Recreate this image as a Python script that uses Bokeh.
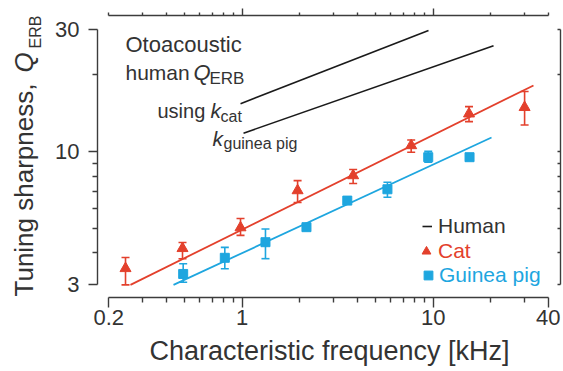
import math
from bokeh.plotting import figure
from bokeh.models import (ColumnDataSource, Whisker, TeeHead, Label, LogAxis, FixedTicker,
                          BasicTickFormatter, Legend, LegendItem)
from bokeh.embed import file_html
from bokeh.resources import INLINE

# ---- data ----
cat_f = [0.245, 0.487, 0.98, 1.95, 3.81, 7.67, 15.4, 30.1]
cat_q = [3.48, 4.17, 5.03, 7.03, 8.05, 10.56, 14.06, 14.9]
cat_hi = [3.84, 4.40, 5.46, 7.69, 8.50, 11.1, 15.0, 17.2]
cat_lo = [3.0, 3.80, 4.69, 6.31, 7.49, 9.94, 13.1, 12.7]

gp_f = [0.491, 0.811, 1.324, 2.17, 3.55, 5.76, 9.42, 15.5]
gp_q = [3.31, 3.83, 4.41, 5.05, 6.42, 7.11, 9.50, 9.50]
gp_hi = [3.63, 4.21, 4.97, 5.12, 6.52, 7.58, 10.03, 9.62]
gp_lo = [3.07, 3.47, 3.80, 4.98, 6.32, 6.62, 9.08, 9.38]

cat_fit_f = [0.26, 33.5]
cat_fit_q = [3.0, 18.15]
gp_fit_f = [0.437, 20.2]
gp_fit_q = [3.0, 11.35]

human_cat_f = [0.98, 9.45]
human_cat_q = [15.4, 29.8]
human_gp_f = [1.016, 20.7]
human_gp_q = [11.8, 26.0]

x_ticks = [0.2, 1, 10, 40]
x_tick_labels = ["0.2", "1", "10", "40"]
x_minor = [0.3, 0.4, 0.5, 0.6, 0.7, 0.8, 0.9, 2, 3, 4, 5, 6, 7, 8, 9, 20, 30]
y_ticks = [3, 10, 30]
y_tick_labels = ["3", "10", "30"]
y_minor = [4, 5, 6, 7, 8, 9, 20]

# ---- style ----
RED = "#E3402C"
BLUE = "#1EA6DF"
TXT = "#333333"
AX = "#3c3c3c"
FONT = "Liberation Sans"

# The frame covers the picture from its left and bottom edges, so the axis
# titles lie inside the frame; the left and bottom axes sit at fixed positions.
X0, X1 = 0.05428, 46.4
Y0, Y1 = 1.372, 34.15
FL, FR, FT, FB = 0.0, 560.0, 15.0, 371.0
YAXIS_PX = 97.0
XAXIS_PY = 297.0
BASE_K = 0.38   # empirical baseline correction of Label text (fraction of font size)


def px2x(px):
    lx0, lx1 = math.log10(X0), math.log10(X1)
    return 10 ** (lx0 + (px - FL) / (FR - FL) * (lx1 - lx0))


def px2y(py):
    ly0, ly1 = math.log10(Y0), math.log10(Y1)
    return 10 ** (ly0 + (FB - py) / (FB - FT) * (ly1 - ly0))


p = figure(width=563, height=371, x_axis_type="log", y_axis_type="log",
           x_range=(X0, X1), y_range=(Y0, Y1),
           output_backend="svg", toolbar_location=None,
           min_border_left=0, min_border_right=3, min_border_top=15, min_border_bottom=0)
p.outline_line_color = None
p.grid.visible = False
p.background_fill_color = "white"

# bottom axis
xa = p.xaxis[0]
xa.fixed_location = px2y(XAXIS_PY)
xa.ticker = FixedTicker(ticks=x_ticks, minor_ticks=x_minor)
xa.formatter = BasicTickFormatter(use_scientific=False)
xa.major_label_overrides = dict(zip(x_ticks, x_tick_labels))
xa.bounds = (0.2, 40)
xa.major_label_text_font = FONT
xa.major_label_text_font_size = "22px"
xa.major_label_text_color = TXT
xa.major_label_standoff = 2
xa.major_tick_out = 10
xa.major_tick_in = 0
xa.minor_tick_out = 5
xa.minor_tick_in = 0

# left axis
ya = p.yaxis[0]
ya.fixed_location = px2x(YAXIS_PX)
ya.ticker = FixedTicker(ticks=y_ticks, minor_ticks=y_minor)
ya.formatter = BasicTickFormatter(use_scientific=False)
ya.major_label_overrides = dict(zip(y_ticks, y_tick_labels))
ya.bounds = (3, 30)
ya.major_label_text_font = FONT
ya.major_label_text_font_size = "22px"
ya.major_label_text_color = TXT
ya.major_label_standoff = 9
ya.major_tick_out = 9
ya.major_tick_in = 0
ya.minor_tick_out = 5
ya.minor_tick_in = 0

for a in (xa, ya):
    a.axis_line_color = AX
    a.axis_line_width = 1.4
    a.major_tick_line_color = AX
    a.major_tick_line_width = 1.4
    a.minor_tick_line_color = AX
    a.minor_tick_line_width = 1.4

# top axis (ticks only, 1 and 10 long)
top = LogAxis(ticker=FixedTicker(ticks=[1, 10], minor_ticks=[0.2] + x_minor + [40]),
              bounds=(0.2, 40),
              major_label_text_font_size="1px", major_label_text_alpha=0,
              major_label_standoff=0,
              major_tick_out=7, major_tick_in=0, minor_tick_out=3, minor_tick_in=0,
              axis_line_color=AX, axis_line_width=1.4, major_tick_line_color=AX,
              major_tick_line_width=1.4, minor_tick_line_color=AX, minor_tick_line_width=1.4)
p.add_layout(top, "above")

# right axis (edge of neighbouring panel)
right = LogAxis(ticker=FixedTicker(ticks=[3, 4, 5, 6, 7, 8, 9, 10, 20, 30], minor_ticks=[]),
                bounds=(3, 30), major_label_text_font_size="1px", major_label_text_alpha=0,
                major_label_standoff=0,
                major_tick_out=0, major_tick_in=3, minor_tick_out=0, minor_tick_in=0,
                axis_line_color=AX, axis_line_width=1.4, major_tick_line_color=AX,
                major_tick_line_width=1.4)
p.add_layout(right, "right")

# ---- lines ----
hl1 = p.line(human_cat_f, human_cat_q, line_color="#1a1a1a", line_width=1.6)
p.line(human_gp_f, human_gp_q, line_color="#1a1a1a", line_width=1.6)
p.line(cat_fit_f, cat_fit_q, line_color=RED, line_width=1.8)
p.line(gp_fit_f, gp_fit_q, line_color=BLUE, line_width=1.8)

# ---- error bars ----
cat_src = ColumnDataSource(dict(f=cat_f, q=cat_q, hi=cat_hi, lo=cat_lo))
gp_src = ColumnDataSource(dict(f=gp_f, q=gp_q, hi=gp_hi, lo=gp_lo))
for src, col in ((cat_src, RED), (gp_src, BLUE)):
    w = Whisker(source=src, base="f", upper="hi", lower="lo", dimension="height",
                line_color=col, line_width=1.6,
                upper_head=TeeHead(size=8, line_color=col, line_width=1.6),
                lower_head=TeeHead(size=8, line_color=col, line_width=1.6))
    p.add_layout(w)

cat_r = p.scatter("f", "q", source=cat_src, marker="triangle", size=11,
                  fill_color=RED, line_color=RED)
gp_r = p.scatter("f", "q", source=gp_src, marker="square", size=9,
                 fill_color=BLUE, line_color=BLUE)

# ---- legends (one per entry to get coloured labels) ----
def mk_legend(label, rend, col, px, py, gw, gh, standoff):
    # (px, py): picture position of the legend box's bottom-left corner
    lg = Legend(items=[LegendItem(label=label, renderers=[rend])],
                location=(px - FL, FB - py),
                glyph_width=gw, glyph_height=gh, label_standoff=standoff,
                label_text_font=FONT, label_text_font_size="21px", label_text_color=col,
                label_height=20, padding=0, margin=0, spacing=0,
                border_line_color=None, background_fill_alpha=0)
    p.add_layout(lg)

mk_legend("Human", hl1, TXT, 422, 238, 10, 20, 6)
mk_legend("Cat", cat_r, RED, 415, 263, 22, 22, 1)
mk_legend("Guinea pig", gp_r, BLUE, 417, 287, 22, 22, 0)

# ---- texts ----
def lab(text, px, py, size, style="normal", col=TXT, rotated=False, align="left"):
    # (px, py): wanted baseline anchor in picture pixels
    d = BASE_K * size
    if rotated:
        px, angle = px - d, math.pi / 2
    else:
        py, angle = py - d, 0.0
    p.add_layout(Label(x=px2x(px), y=px2y(py), text=text, text_font=FONT,
                       text_font_size=f"{size}px", text_font_style=style, text_color=col,
                       text_align=align, text_baseline="alphabetic", angle=angle))

# x-axis title
lab("Characteristic frequency [kHz]", 329, 361, 27, align="center")

# y-axis title (rotated)
lab("Tuning sharpness,", 33, 296, 26, rotated=True)
lab("Q", 33, 72, 26, style="italic", rotated=True)
lab("ERB", 41, 48, 16, rotated=True)

# inset annotation
lab("Otoacoustic", 125, 52, 22)
lab("human", 125, 80, 21)
lab("Q", 193, 80, 22, style="italic")
lab("ERB", 209, 84, 17)
lab("using", 157, 118, 20)
lab("k", 210, 118, 21, style="italic")
lab("cat", 220, 122, 16)
lab("k", 212, 146, 21, style="italic")
lab("guinea pig", 223, 149, 16)

open("out.html", "w").write(file_html(p, INLINE))
